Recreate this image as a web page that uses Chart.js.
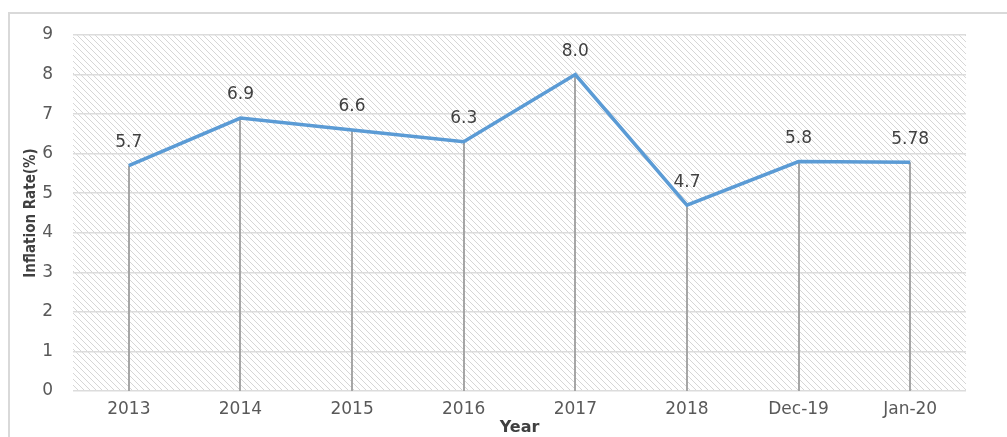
<!DOCTYPE html>
<html>
<head>
<meta charset="utf-8">
<script src="https://cdn.jsdelivr.net/npm/chart.js@4/dist/chart.umd.min.js"></script>
<style>
  html, body { margin: 0; padding: 0; background: #fff; }
  #wrap { width: 1007px; height: 437px; }
</style>
</head>
<body>
<div id="wrap"><canvas id="inflation-chart" width="1007" height="437"></canvas></div>
<script>
// inflation rate per year
const years = ['2013', '2014', '2015', '2016', '2017', '2018', 'Dec-19', 'Jan-20'];
const inflation = [5.7, 6.9, 6.6, 6.3, 8.0, 4.7, 5.8, 5.78];
const yTicks = [0, 1, 2, 3, 4, 5, 6, 7, 8, 9];

function fmtValue(v) {
  return Number.isInteger(Math.round(v * 100) / 10) ? v.toFixed(1) : String(v);
}

// diagonal hatch used as plot background
function makeHatch(ctx) {
  const c = document.createElement('canvas');
  c.width = 6; c.height = 6;
  const p = c.getContext('2d');
  p.strokeStyle = '#d6d6d6';
  p.lineWidth = 1;
  p.beginPath();
  p.moveTo(0, 0); p.lineTo(6, 6);
  p.moveTo(-1, 5); p.lineTo(1, 7);
  p.moveTo(5, -1); p.lineTo(7, 1);
  p.stroke();
  return ctx.createPattern(c, 'repeat');
}

const frame = {
  id: 'frame',
  beforeDraw(chart) {
    const ctx = chart.ctx;
    const a = chart.chartArea;
    ctx.save();
    ctx.fillStyle = '#fff';
    ctx.fillRect(0, 0, chart.width, chart.height);
    ctx.strokeStyle = '#d9d9d9';
    ctx.lineWidth = 2;
    ctx.strokeRect(9, 13, chart.width + 20, chart.height + 20);
    ctx.fillStyle = makeHatch(ctx);
    ctx.fillRect(a.left, a.top, a.right - a.left, a.bottom - a.top);
    ctx.restore();
  },
  beforeDatasetsDraw(chart) {
    // drop lines from each point down to the axis
    const ctx = chart.ctx;
    const meta = chart.getDatasetMeta(0);
    const bottom = chart.scales.y.getPixelForValue(0);
    ctx.save();
    ctx.strokeStyle = '#a6a6a6';
    ctx.lineWidth = 2;
    meta.data.forEach(pt => {
      ctx.beginPath();
      ctx.moveTo(Math.round(pt.x), pt.y);
      ctx.lineTo(Math.round(pt.x), bottom);
      ctx.stroke();
    });
    ctx.restore();
  },
  afterDatasetsDraw(chart) {
    const ctx = chart.ctx;
    const meta = chart.getDatasetMeta(0);
    ctx.save();
    ctx.fillStyle = '#404040';
    ctx.font = '17px "DejaVu Sans"';
    ctx.textAlign = 'center';
    ctx.textBaseline = 'middle';
    meta.data.forEach((pt, i) => {
      ctx.fillText(fmtValue(inflation[i]), pt.x, pt.y - 23);
    });
    ctx.restore();
  }
};

const ctx = document.getElementById('inflation-chart').getContext('2d');
new Chart(ctx, {
  type: 'line',
  data: {
    labels: years,
    datasets: [{
      data: inflation,
      borderColor: '#5b9bd5',
      borderWidth: 3.5,
      pointRadius: 0,
      tension: 0,
      fill: false
    }]
  },
  options: {
    responsive: false,
    animation: false,
    layout: { padding: { left: 22, top: 35, right: 41, bottom: 0 } },
    plugins: {
      legend: { display: false },
      tooltip: { enabled: false }
    },
    scales: {
      x: {
        offset: true,
        grid: { display: false, drawTicks: false },
        border: { display: false },
        ticks: {
          padding: 8,
          color: '#595959',
          font: { family: 'DejaVu Sans', size: 17 },
          maxRotation: 0
        },
        title: {
          display: true,
          text: 'Year',
          color: '#404040',
          font: { family: 'DejaVu Sans', size: 16, weight: 'bold' },
          padding: 0
        },
        afterFit(scale) { scale.height = 46; }
      },
      y: {
        min: 0,
        max: 9,
        afterBuildTicks(scale) { scale.ticks = yTicks.map(v => ({ value: v })); },
        grid: { color: '#dcdcdc', lineWidth: 1.5, drawTicks: false },
        border: { display: false },
        ticks: {
          padding: 20,
          color: '#595959',
          font: { family: 'DejaVu Sans', size: 17 }
        },
        title: {
          display: true,
          text: 'Inflation Rate(%)',
          color: '#404040',
          font: { family: 'DejaVu Sans Condensed', size: 15, weight: 'bold' },
          padding: 0
        },
        afterFit(scale) { scale.width = 51; }
      }
    }
  },
  plugins: [frame]
});
</script>
</body>
</html>
